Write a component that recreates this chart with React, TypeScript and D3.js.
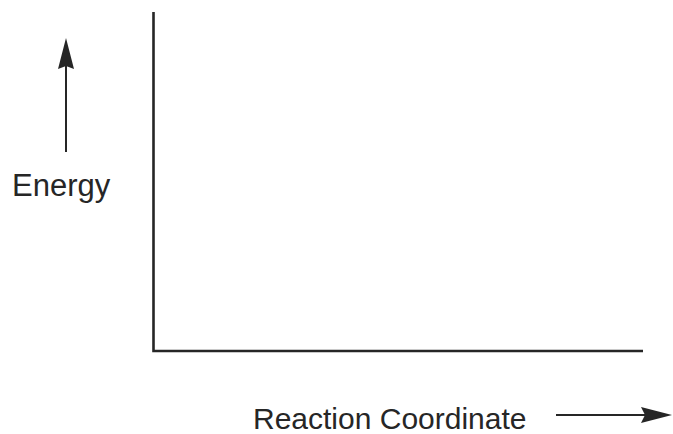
import React, { useEffect, useRef } from 'react';
import * as d3 from 'd3';

// axis titles for the empty energy diagram
const yTitle = ['Energy'];
const xTitle = ['Reaction Coordinate'];
const domainX = [0, 1];
const domainY = [0, 1];

const App = () => {
    const svgRef = useRef(null);

    useEffect(() => {
        const width = 673;
        const height = 434;
        const ink = '#262626';

        const svg = d3.select(svgRef.current);
        svg.selectAll('*').remove();
        svg.attr('width', width).attr('height', height);

        const xScale = d3.scaleLinear().domain(domainX).range([153.5, 643]);
        const yScale = d3.scaleLinear().domain(domainY).range([351, 12]);

        // axes, no ticks
        svg.append('path')
            .attr('d', `M${xScale(0)},${yScale(1)} V${yScale(0)} H${xScale(1)}`)
            .attr('fill', 'none')
            .attr('stroke', ink)
            .attr('stroke-width', 2.6);

        // energy arrow, pointing up
        svg.append('line')
            .attr('x1', 66).attr('x2', 66)
            .attr('y1', 152).attr('y2', 62)
            .attr('stroke', ink)
            .attr('stroke-width', 2);
        svg.append('path')
            .attr('d', 'M66,38 L74,69 L66,66 L58,69 Z')
            .attr('fill', ink);

        svg.selectAll('text.ytitle')
            .data(yTitle)
            .enter()
            .append('text')
            .attr('class', 'ytitle')
            .attr('x', 12)
            .attr('y', 196)
            .attr('font-family', 'Liberation Sans, Arial, sans-serif')
            .attr('font-size', 31)
            .attr('fill', ink)
            .text(d => d);

        svg.selectAll('text.xtitle')
            .data(xTitle)
            .enter()
            .append('text')
            .attr('class', 'xtitle')
            .attr('x', 253)
            .attr('y', 429)
            .attr('font-family', 'Liberation Sans, Arial, sans-serif')
            .attr('font-size', 30)
            .attr('fill', ink)
            .text(d => d);

        // reaction coordinate arrow, pointing right
        svg.append('line')
            .attr('x1', 556).attr('x2', 650)
            .attr('y1', 415).attr('y2', 415)
            .attr('stroke', ink)
            .attr('stroke-width', 2);
        svg.append('path')
            .attr('d', 'M672,415 L641,407 L645,415 L641,423 Z')
            .attr('fill', ink);
    }, []);

    return (
        <div style={{ position: 'absolute', left: 0, top: 0, width: 673, height: 434, background: '#fff' }}>
            <svg ref={svgRef} style={{ display: 'block' }}></svg>
        </div>
    );
};

export default App;
